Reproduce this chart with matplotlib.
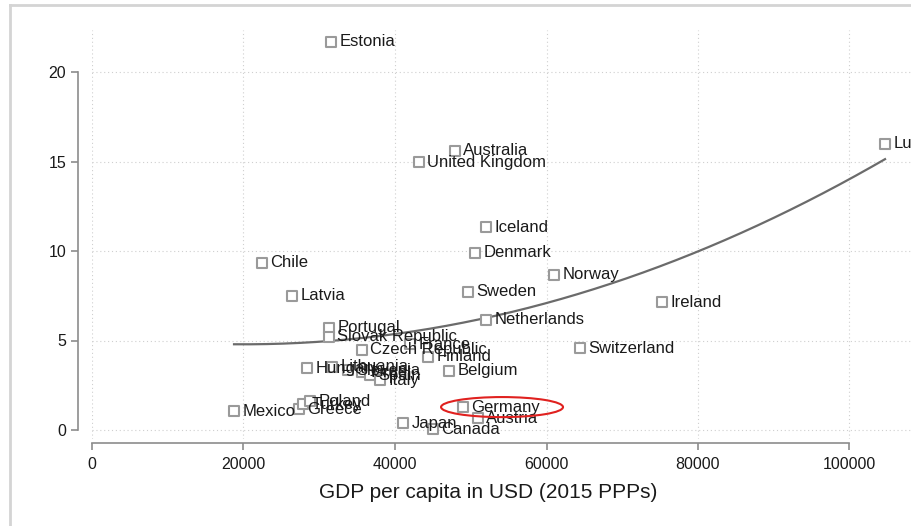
import numpy as np
import matplotlib.pyplot as plt
from matplotlib.patches import Ellipse
from matplotlib.lines import Line2D

plt.rcParams['font.family'] = ['Liberation Sans', 'DejaVu Sans']

countries = ["Estonia", "Australia", "United Kingdom", "Luxembourg", "Iceland",
             "Denmark", "Chile", "Norway", "Latvia", "Sweden", "Ireland",
             "Netherlands", "Portugal", "Slovak Republic", "Czech Republic",
             "France", "Finland", "Switzerland", "Belgium", "Hungary",
             "Lithuania", "Slovenia", "Israel", "Spain", "Italy", "Mexico",
             "Greece", "Turkey", "Poland", "Germany", "Austria", "Japan", "Canada"]
gdp = [31550, 47920, 43170, 104690, 52010,
       50560, 22440, 60990, 26400, 49640, 75250,
       52010, 31290, 31290, 35640,
       41980, 44360, 64420, 47130, 28380,
       31680, 33800, 35640, 36700, 38020, 18750,
       27330, 27850, 28780, 48980, 50960, 41060, 45020]
share = [21.7, 15.6, 14.97, 15.98, 11.34,
         9.89, 9.33, 8.66, 7.49, 7.71, 7.15,
         6.15, 5.70, 5.20, 4.47,
         4.80, 4.08, 4.58, 3.30, 3.46,
         3.52, 3.35, 3.24, 3.07, 2.79, 1.06,
         1.17, 1.45, 1.62, 1.28, 0.67, 0.39, 0.05]

x_ticks = [0, 20000, 40000, 60000, 80000, 100000]
y_ticks = [0, 5, 10, 15, 20]

W, H = 911, 526
fig = plt.figure(figsize=(W / 100, H / 100), dpi=100)
# plot region runs off the right edge of the canvas
left_px, right_px, top_px, bottom_px = 92, 975, 30, 439
ax = fig.add_axes([left_px / W, 1 - bottom_px / H,
                   (right_px - left_px) / W, (bottom_px - top_px) / H])
px_per_x = 151.5 / 20000
px_per_y = 89.5 / 5
ax.set_xlim(0, (right_px - left_px) / px_per_x)
ax.set_ylim((430 - bottom_px) / px_per_y, (430 - top_px) / px_per_y)

grid_kw = dict(color="#cfcfcf", lw=0.8, ls=(0, (1, 2.5)), zorder=0)
for xt in x_ticks:
    ax.axvline(xt, **grid_kw)
for yt in y_ticks:
    ax.axhline(yt, **grid_kw)

ax.scatter(gdp, share, marker="s", s=42, facecolors="white",
           edgecolors="#9a9a9a", linewidths=1.5, zorder=3)
for name, x, y in zip(countries, gdp, share):
    ax.annotate(name, (x, y), xytext=(6, 0), textcoords="offset points",
                va="center", ha="left", fontsize=12, color="#1a1a1a",
                zorder=4)

# quadratic fit over the observed range
coef = np.polyfit(gdp, share, 2)
xs = np.linspace(min(gdp), max(gdp), 200)
ax.plot(xs, np.polyval(coef, xs), color="#6b6b6b", lw=1.6, zorder=2)

ax.add_patch(Ellipse((54130, 1.28), 16100, 1.12, fill=False,
                     edgecolor="#e0211f", lw=1.5, zorder=5))

for side in ("top", "right"):
    ax.spines[side].set_visible(False)
ax.spines["left"].set_position(("outward", 10))
ax.spines["bottom"].set_position(("outward", 3))
ax.spines["left"].set_bounds(0, 20)
ax.spines["bottom"].set_bounds(0, 100000)
for side in ("left", "bottom"):
    ax.spines[side].set_color("#8c8c8c")
    ax.spines[side].set_linewidth(1.2)

ax.set_xticks(x_ticks)
ax.set_yticks(y_ticks)
ax.tick_params(axis="both", colors="#8c8c8c", length=5, width=1.2,
               labelsize=11.5, labelcolor="#1a1a1a")
ax.tick_params(axis="x", pad=5)

# axis title centred under the data range
fig.text(488 / W, 1 - 493 / H, "GDP per capita in USD (2015 PPPs)",
         fontsize=15, color="#1a1a1a", ha="center", va="center")

# outer frame of the graph
fig.add_artist(Line2D([10 / W, 1], [1 - 5 / H, 1 - 5 / H],
                      color="#d4d4d4", lw=2, transform=fig.transFigure))
fig.add_artist(Line2D([10 / W, 10 / W], [0, 1 - 5 / H],
                      color="#d4d4d4", lw=2, transform=fig.transFigure))

fig.savefig("out.png", dpi=100)
